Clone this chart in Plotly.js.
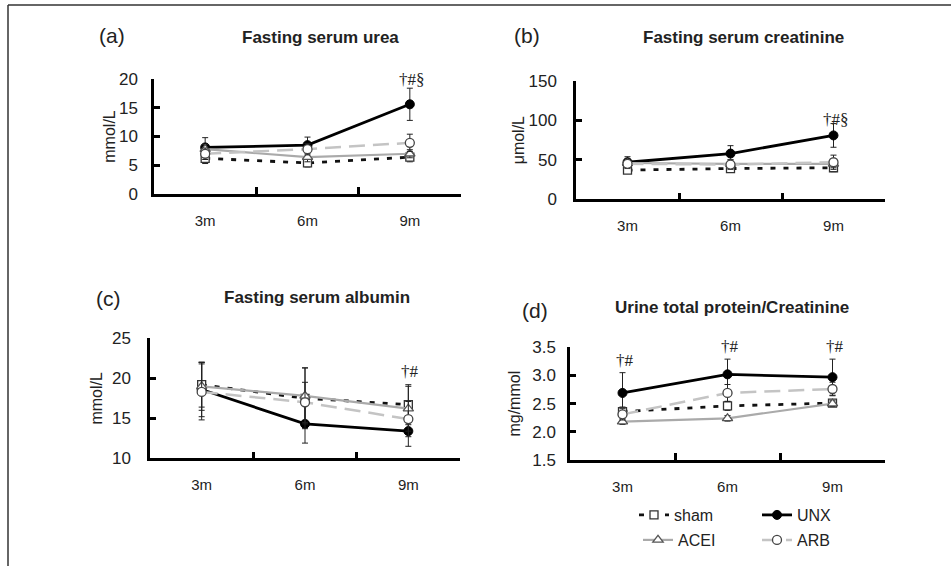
<!DOCTYPE html>
<html><head><meta charset="utf-8">
<script src="https://cdn.plot.ly/plotly-3.0.1.min.js"></script>
<style>html,body{margin:0;padding:0;background:#fff}#chart{width:951px;height:566px}</style>
</head><body><div id="chart"></div>
<script>
// ---- data ----
const timepoints = ['3m', '6m', '9m'];
const groupNames = ['sham', 'UNX', 'ACEI', 'ARB'];

// (a) Fasting serum urea, mmol/L
const ureaSham = [6.2, 5.4, 6.4];
const ureaShamErr = [0.9, 0.7, 0.8];
const ureaUnx = [8.1, 8.5, 15.6];
const ureaUnxErr = [1.7, 1.4, 2.8];
const ureaAcei = [7.8, 6.4, 7.0];
const ureaAceiErr = [0.8, 0.8, 0.7];
const ureaArb = [7.0, 7.8, 8.9];
const ureaArbErr = [1.0, 1.0, 1.5];

// (b) Fasting serum creatinine, umol/L
const creaSham = [37, 39, 40];
const creaShamErr = [4, 5, 5];
const creaUnx = [47, 58, 81];
const creaUnxErr = [7, 10, 15];
const creaAcei = [46, 45, 45];
const creaAceiErr = [5, 5, 5];
const creaArb = [45, 44, 47];
const creaArbErr = [6, 6, 9];

// (c) Fasting serum albumin, mmol/L
const albSham = [19.2, 17.5, 16.7];
const albShamErr = [2.8, 3.8, 2.5];
const albUnx = [18.6, 14.3, 13.4];
const albUnxErr = [3.4, 2.4, 1.9];
const albAcei = [19.0, 17.8, 16.2];
const albAceiErr = [3.0, 3.5, 2.8];
const albArb = [18.3, 17.0, 14.9];
const albArbErr = [3.5, 2.5, 2.2];

// (d) Urine total protein / creatinine, mg/mmol
const uprSham = [2.36, 2.46, 2.51];
const uprShamErr = [0.08, 0.08, 0.06];
const uprUnx = [2.69, 3.02, 2.97];
const uprUnxErr = [0.36, 0.27, 0.32];
const uprAcei = [2.18, 2.24, 2.50];
const uprAceiErr = [0.05, 0.05, 0.05];
const uprArb = [2.31, 2.69, 2.76];
const uprArbErr = [0.10, 0.15, 0.12];

const panelLetters = ['(a)', '(b)', '(c)', '(d)'];
const panelTitles = ['Fasting serum urea', 'Fasting serum creatinine', 'Fasting serum albumin', 'Urine total protein/Creatinine'];
const yUnits = ['mmol/L', 'μmol/L', 'mmol/L', 'mg/mmol'];
const sigLabels = ['†#§', '†#§', '†#', '†#'];

// ---- build ----
const W = 951, H = 566;
const px = v => v / W;
const py = v => 1 - v / H;

const panelData = [
  {sham: [ureaSham, ureaShamErr], UNX: [ureaUnx, ureaUnxErr], ACEI: [ureaAcei, ureaAceiErr], ARB: [ureaArb, ureaArbErr]},
  {sham: [creaSham, creaShamErr], UNX: [creaUnx, creaUnxErr], ACEI: [creaAcei, creaAceiErr], ARB: [creaArb, creaArbErr]},
  {sham: [albSham, albShamErr], UNX: [albUnx, albUnxErr], ACEI: [albAcei, albAceiErr], ARB: [albArb, albArbErr]},
  {sham: [uprSham, uprShamErr], UNX: [uprUnx, uprUnxErr], ACEI: [uprAcei, uprAceiErr], ARB: [uprArb, uprArbErr]}
];

const styles = {
  sham: {line: {color: '#111', width: 2.8, dash: '5px,8px'},
         marker: {symbol: 'square', size: 8, color: '#fff', line: {color: '#333', width: 1.3}},
         legend: 'legend', rank: 1},
  UNX:  {line: {color: '#000', width: 2.8},
         marker: {symbol: 'circle', size: 9, color: '#000', line: {color: '#000', width: 1}},
         legend: 'legend', rank: 2},
  ACEI: {line: {color: '#aaaaaa', width: 2.2},
         marker: {symbol: 'triangle-up', size: 9, color: '#fff', line: {color: '#555', width: 1.3}},
         legend: 'legend2', rank: 3},
  ARB:  {line: {color: '#c4c4c4', width: 2.5, dash: '16px,8px'},
         marker: {symbol: 'circle', size: 9, color: '#fff', line: {color: '#444', width: 1.3}},
         legend: 'legend2', rank: 4}
};
const drawOrder = ['UNX', 'sham', 'ACEI', 'ARB'];

const traces = [];
panelData.forEach((pd, i) => {
  const sfx = i === 0 ? '' : String(i + 1);
  drawOrder.forEach(g => {
    const s = styles[g];
    traces.push({
      type: 'scatter', mode: 'lines+markers', name: g,
      x: timepoints, y: pd[g][0],
      error_y: {type: 'data', array: pd[g][1], visible: true, color: '#222', thickness: 1, width: 3},
      line: s.line, marker: s.marker,
      xaxis: 'x' + sfx, yaxis: 'y' + sfx,
      showlegend: i === 0, legend: s.legend, legendrank: s.rank,
      hoverinfo: 'skip'
    });
  });
});

// plot-area pixel boxes [left, right, top, bottom]
const boxes = [[154, 461, 79, 194], [576, 885, 81, 199.3], [150, 460, 338.3, 458.3], [570, 885, 347.3, 460]];
const yRanges = [[0, 20], [0, 150], [10, 25], [1.5, 3.5]];
const yDticks = [5, 50, 5, 0.5];
const yFormats = ['', '', '', '.1f'];
const yLabelStandoff = [10, 13, 13, 8];
const yTitleStandoff = [0, 0, 6, 8];

const font = 'Liberation Sans, Arial, sans-serif';
const layout = {
  width: W, height: H,
  margin: {l: 0, r: 0, t: 0, b: 0},
  paper_bgcolor: '#fff', plot_bgcolor: 'rgba(0,0,0,0)',
  font: {family: font, size: 16, color: '#222'},
  showlegend: true,
  legend: {orientation: 'h', x: px(634), y: py(515), xanchor: 'left', yanchor: 'middle',
           entrywidth: 78, font: {family: font, size: 16, color: '#222'}, bgcolor: 'rgba(0,0,0,0)', borderwidth: 0},
  legend2: {orientation: 'h', x: px(638), y: py(540), xanchor: 'left', yanchor: 'middle',
           entrywidth: 74, font: {family: font, size: 16, color: '#222'}, bgcolor: 'rgba(0,0,0,0)', borderwidth: 0},
  annotations: [],
  shapes: [
    {type: 'line', xref: 'paper', yref: 'paper', x0: px(8), x1: px(8), y0: 0, y1: py(5), line: {color: '#333', width: 1.5}},
    {type: 'line', xref: 'paper', yref: 'paper', x0: px(8), x1: 1, y0: py(5), y1: py(5), line: {color: '#333', width: 1.5}}
  ]
};

boxes.forEach((b, i) => {
  const sfx = i === 0 ? '' : String(i + 1);
  layout['xaxis' + sfx] = {
    domain: [px(b[0]), px(b[1])], anchor: 'y' + sfx, type: 'category',
    range: [-0.5, 2.5], tickson: 'boundaries', ticks: 'inside', ticklen: 7, tickwidth: 2.5, tickcolor: '#000',
    showline: true, linecolor: '#000', linewidth: 2.5, showgrid: false, zeroline: false,
    ticklabelstandoff: 11, tickfont: {family: font, size: 15, color: '#222'}, fixedrange: true
  };
  layout['yaxis' + sfx] = {
    domain: [py(b[3]), py(b[2])], anchor: 'x' + sfx,
    range: yRanges[i], dtick: yDticks[i], tick0: yRanges[i][0], tickformat: yFormats[i],
    ticks: 'inside', ticklen: 6, tickwidth: 2.5, tickcolor: '#000',
    showline: true, linecolor: '#000', linewidth: 2.5, showgrid: false, zeroline: false,
    ticklabelstandoff: yLabelStandoff[i], tickfont: {family: font, size: 17, color: '#222'},
    title: {text: yUnits[i], standoff: yTitleStandoff[i], font: {family: font, size: 16, color: '#222'}},
    fixedrange: true
  };
});

// panel letters and titles
const letterPos = [[112, 35], [527, 35], [108, 298], [535, 310]];
const titlePos = [[320, 37], [743, 37], [317, 297], [732, 307]];
panelLetters.forEach((t, i) => {
  layout.annotations.push({text: t, xref: 'paper', yref: 'paper', x: px(letterPos[i][0]), y: py(letterPos[i][1]),
    showarrow: false, xanchor: 'center', yanchor: 'middle', font: {family: font, size: 21, color: '#222'}});
  layout.annotations.push({text: '<b>' + panelTitles[i] + '</b>', xref: 'paper', yref: 'paper', x: px(titlePos[i][0]), y: py(titlePos[i][1]),
    showarrow: false, xanchor: 'center', yanchor: 'middle', font: {family: font, size: 17, color: '#222'}});
});

// significance marks (x in data categories, y at pixel row)
const sigMarks = [
  {panel: 0, x: '9m', y: 79, text: sigLabels[0]},
  {panel: 1, x: '9m', y: 120, text: sigLabels[1]},
  {panel: 2, x: '9m', y: 371, text: sigLabels[2]},
  {panel: 3, x: '3m', y: 360, text: sigLabels[3]},
  {panel: 3, x: '6m', y: 346, text: sigLabels[3]},
  {panel: 3, x: '9m', y: 346, text: sigLabels[3]}
];
sigMarks.forEach(m => {
  const sfx = m.panel === 0 ? '' : String(m.panel + 1);
  layout.annotations.push({text: m.text, xref: 'x' + sfx, yref: 'paper', x: m.x, y: py(m.y), xshift: 2,
    showarrow: false, xanchor: 'center', yanchor: 'middle',
    font: {family: 'Liberation Serif, Times New Roman, serif', size: 17, color: '#222'}});
});

Plotly.newPlot('chart', traces, layout, {displayModeBar: false, responsive: false});
</script>
</body></html>
